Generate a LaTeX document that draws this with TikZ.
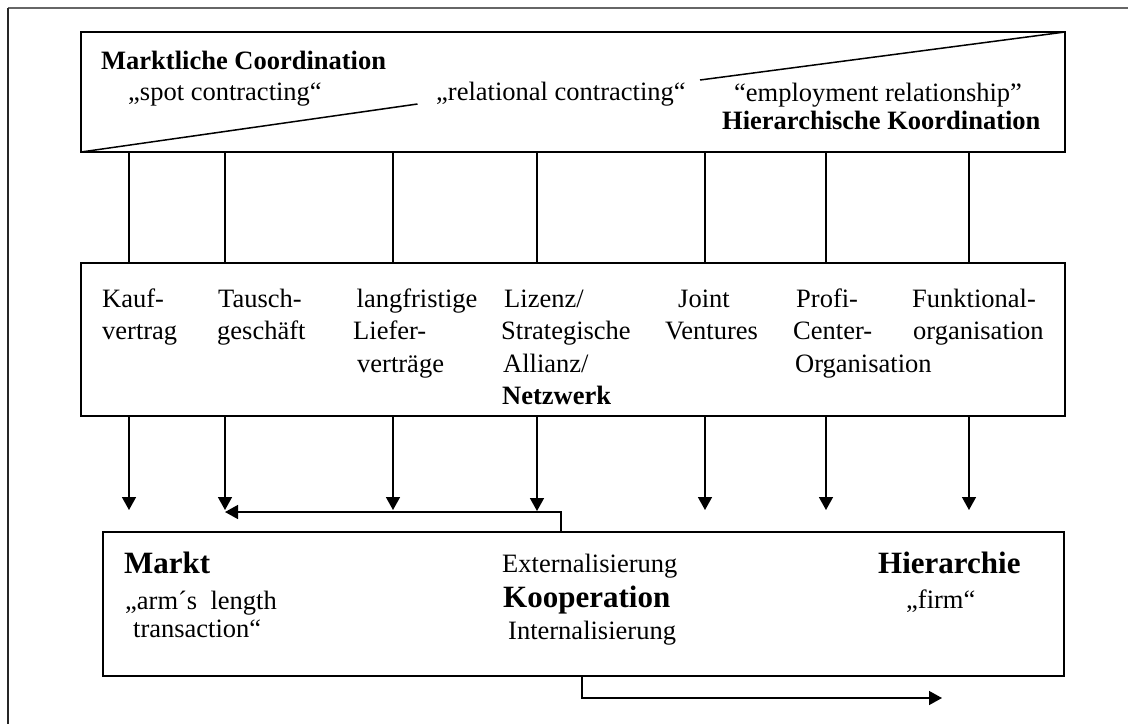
\documentclass[tikz,border=0pt]{standalone}
\usepackage{fontspec}
\setmainfont{Liberation Serif}
\usetikzlibrary{arrows.meta}
\begin{document}
\begin{tikzpicture}[x=1pt,y=-1pt,
  box/.style={draw, line width=2pt, inner sep=0pt, outer sep=0pt, anchor=north west},
  conn/.style={line width=1.5pt},
  arr/.style={line width=1.5pt, -{Triangle[width=14pt,length=13pt]}},
  txt/.style={inner sep=0pt, anchor=base west, font=\fontsize{26.5}{32}\selectfont},
  btxt/.style={txt, font=\fontsize{26.5}{32}\selectfont\bfseries},
  big/.style={txt, font=\fontsize{31}{36}\selectfont\bfseries},
]
\useasboundingbox (0,0) rectangle (1128,724);

% page frame (top and left rule)
\draw[line width=1.2pt, black!60] (8,8) -- (1128,8);
\draw[line width=1.2pt, black!85] (8,8) -- (8,724);

% the three boxes
\node[box, minimum width=984, minimum height=120] (topbox) at (81,32) {};
\node[box, minimum width=984, minimum height=153] (midbox) at (81,263) {};
\node[box, minimum width=961, minimum height=144] (botbox) at (103,532) {};

% split of the top box: market vs. hierarchy
\coordinate (d1) at (417.5,104);
\coordinate (d2) at (700,80);
\draw[conn] (topbox.south west) -- (d1);
\draw[conn] (d2) -- (topbox.north east);

% top box texts
\node[btxt] (mk) at (101,69) {Marktliche Coordination};
\node[txt] (spot) at (128,100) {„spot contracting“};
\node[txt] (rel) at (436,100) {„relational contracting“};
\node[txt] (emp) at (734,101) {“employment relationship”};
\node[btxt] (hk) at (722,129) {Hierarchische Koordination};

% column positions (arrow tips)
\coordinate (t1) at (129,510);
\coordinate (t2) at (225,510);
\coordinate (t3) at (393,510);
\coordinate (t4) at (537,511);
\coordinate (t5) at (705,510);
\coordinate (t6) at (826,510);
\coordinate (t7) at (969,510);

\foreach \i in {1,...,7}{
  \draw[conn] (topbox.south -| t\i) -- (midbox.north -| t\i);
  \draw[arr] (midbox.south -| t\i) -- (t\i);
}

% middle box texts
\node[txt] (a1) at (102,307) {Kauf-};
\node[txt] (a2) at (102,339.5) {vertrag};
\node[txt] (b1) at (218,307) {Tausch-};
\node[txt] (b2) at (217,339.5) {geschäft};
\node[txt] (c1) at (356.5,307) {langfristige};
\node[txt] (c2) at (353,339.5) {Liefer-};
\node[txt] (c3) at (357,372) {verträge};
\node[txt] (e1) at (504,307) {Lizenz/};
\node[txt] (e2) at (501,339.5) {Strategische};
\node[txt] (e3) at (503,372) {Allianz/};
\node[btxt] (e4) at (502,404) {Netzwerk};
\node[txt] (f1) at (678,307) {Joint};
\node[txt] (f2) at (665,339.5) {Ventures};
\node[txt] (g1) at (796,307) {Profi-};
\node[txt] (g2) at (793,339.5) {Center-};
\node[txt] (g3) at (795,372) {Organisation};
\node[txt] (h1) at (912,307) {Funktional-};
\node[txt] (h2) at (913,339.5) {organisation};

% externalisation back to the exchange column
\coordinate (fb) at (561,512);
\draw[arr] (botbox.north -| fb) -- (fb) -- (fb -| t2);

% internalisation towards the hierarchy
\coordinate (ib) at (582,698);
\coordinate (ibend) at (942,698);
\draw[arr] (botbox.south -| ib) -- (ib) -- (ibend);

% bottom box texts
\node[big] (markt) at (124,573) {Markt};
\node[txt] (arm) at (125,609) {„arm´s~ length};
\node[txt] (trans) at (133,637) {transaction“};
\node[txt] (ext) at (502,572) {Externalisierung};
\node[big] (koop) at (503,607) {Kooperation};
\node[txt] (int) at (508,639) {Internalisierung};
\node[big] (hier) at (878,573) {Hierarchie};
\node[txt] (firm) at (906,608) {„firm“};
\end{tikzpicture}
\end{document}
